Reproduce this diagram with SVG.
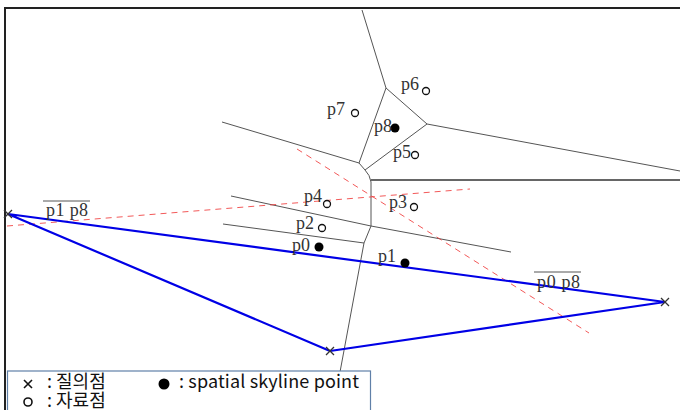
<svg xmlns="http://www.w3.org/2000/svg" width="680" height="410" viewBox="0 0 680 410">
<style>
.vor{fill:none;stroke:#555;stroke-width:1}
.red{fill:none;stroke:#f03c3c;stroke-width:1;stroke-dasharray:6 5;opacity:0.85}
.blue{fill:none;stroke:#0000e6;stroke-width:2.2;stroke-linejoin:round}
.lbl{font-family:"Liberation Serif","DejaVu Serif",serif;font-size:18px;fill:#333}
.open{fill:#fff;stroke:#111;stroke-width:1.3}
.dot{fill:#000}
.q{stroke:#333;stroke-width:1.3;fill:none}
.leg{font-family:"Noto Sans CJK KR","Noto Sans",sans-serif;font-size:18px;fill:#111}
</style>
<rect x="0" y="0" width="680" height="410" fill="#fff"/>
<g id="frame">
<path d="M5,410 V8 H680" fill="none" stroke="#222" stroke-width="2"/>
</g>
<g id="connectors">
<path class="vor" d="M362,10 L386,88 L427,124 L680,171"/>
<path class="vor" d="M386,88 L359,163"/>
<path class="vor" d="M427,124 L365,170"/>
<path class="vor" d="M222,122 L359,163 L365,170 Q370,175 371,182 L371,226"/>
<path d="M371,180 H680" fill="none" stroke="#333" stroke-width="1.5"/>
<path class="vor" d="M231,196 L371,226 L511,252"/>
<path class="vor" d="M371,226 L364,243 L340,372"/>
<path class="vor" d="M223,224 L364,243"/>
<path class="red" d="M297,149 L589,333"/>
<path class="red" d="M7,226 L470,189"/>
<path class="blue" d="M8,214 L665,302 L330,351 Z"/>
</g>
<g id="q1"><path class="q" d="M4,210 L12,218 M4,218 L12,210"/></g>
<g id="q2"><path class="q" d="M326,347 L334,355 M326,355 L334,347"/></g>
<g id="q3"><path class="q" d="M661,298 L669,306 M661,306 L669,298"/></g>
<g id="p7"><circle class="open" cx="355" cy="113" r="3.5"/><text class="lbl" x="327" y="115">p7</text></g>
<g id="p6"><circle class="open" cx="426" cy="91" r="3.5"/><text class="lbl" x="401" y="90">p6</text></g>
<g id="p8"><circle class="dot" cx="395" cy="128" r="4.5"/><text class="lbl" x="374" y="132">p8</text></g>
<g id="p5"><circle class="open" cx="415" cy="155" r="3.5"/><text class="lbl" x="393" y="158">p5</text></g>
<g id="p4"><circle class="open" cx="327" cy="204" r="3.5"/><text class="lbl" x="304" y="202">p4</text></g>
<g id="p3"><circle class="open" cx="414" cy="207" r="3.5"/><text class="lbl" x="389" y="208">p3</text></g>
<g id="p2"><circle class="open" cx="322" cy="228" r="3.5"/><text class="lbl" x="296" y="229">p2</text></g>
<g id="p0"><circle class="dot" cx="319" cy="247" r="4.5"/><text class="lbl" x="292" y="251">p0</text></g>
<g id="p1"><circle class="dot" cx="405" cy="263" r="4.5"/><text class="lbl" x="378" y="262">p1</text></g>
<g id="label-p1p8"><path d="M43,201 H90" stroke="#555" stroke-width="1"/><text class="lbl" x="46" y="216" textLength="42">p1 p8</text></g>
<g id="label-p0p8"><path d="M534,272 H581" stroke="#555" stroke-width="1"/><text class="lbl" x="537" y="288" textLength="43">p0 p8</text></g>
<g id="legend">
<rect x="7.5" y="371" width="363" height="50" fill="#fff" stroke="#6080a8" stroke-width="1.2"/>
<path d="M24,380 L32,388 M24,388 L32,380" stroke="#111" stroke-width="1.6"/>
<circle cx="28" cy="402" r="4" fill="none" stroke="#111" stroke-width="1.6"/>
<circle cx="164" cy="384" r="5.5" fill="#000"/>
<text class="leg" x="47" y="388">: 질의점</text>
<text class="leg" x="47" y="407">: 자료점</text>
<text class="leg" x="179" y="388" textLength="180">: spatial skyline point</text>
</g>
</svg>
